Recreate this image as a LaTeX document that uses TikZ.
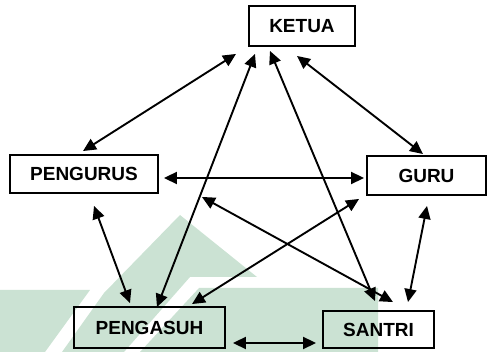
\documentclass[tikz,border=0pt]{standalone}
\usepackage{fontspec}
\setmainfont{Liberation Sans}
\usetikzlibrary{arrows.meta,calc}
\definecolor{wm}{RGB}{203,226,211}
\tikzset{
  box/.style={draw=black, line width=1.9pt, inner sep=0pt, font=\bfseries\fontsize{19}{22}\selectfont},
  link/.style={line width=1.9pt, {Triangle[length=13pt,width=12pt]}-{Triangle[length=13pt,width=12pt]}}
}
\begin{document}
\begin{tikzpicture}[x=1pt,y=-1pt]
\useasboundingbox (0,0) rectangle (488,352);
% watermark
\fill[wm] (0,290) -- (90,290) -- (45,352) -- (0,352) -- cycle;
\fill[wm] (180,215) -- (257,277) -- (190,277) -- (124,352) -- (62,352) -- (104,293) -- cycle;
\fill[wm] (199,288) -- (378,288) -- (378,352) -- (140,352) -- cycle;
% nodes
\node[box, minimum width=106pt, minimum height=40pt] (ketua) at (302,26) {KETUA};
\node[box, minimum width=148pt, minimum height=38pt] (pengurus) at (84,174) {PENGURUS};
\node[box, minimum width=119pt, minimum height=39pt] (guru) at (426.5,175.5) {GURU};
\node[box, minimum width=151pt, minimum height=41pt] (pengasuh) at (149.5,327.5) {PENGASUH};
\node[box, minimum width=111pt, minimum height=37pt] (santri) at (378.5,329.5) {SANTRI};
% connectors
\draw[link] ($(pengurus.north)+(-1,-3)$) -- ($(ketua.south)+(-66,7)$);
\draw[link] ($(pengasuh.north)+(7.5,1)$) -- ($(ketua.south)+(-47,7)$);
\draw[link] ($(ketua.south)+(-32,4)$) -- ($(santri.north)+(-3.5,-9)$);
\draw[link] ($(ketua.south)+(-5,9)$) -- ($(guru.north)+(-3.5,-1)$);
\draw[link] ($(pengurus.east)+(5,4)$) -- ($(guru.west)+(-2,2.5)$);
\draw[link] ($(pengurus.south)+(10,12)$) -- ($(pengasuh.north)+(-19.5,-3)$);
\draw[link] ($(pengurus.south east)+(43,3)$) -- ($(santri.north)+(14.5,-8)$);
\draw[link] ($(guru.south west)+(-7,3)$) -- ($(pengasuh.north)+(42.5,-2)$);
\draw[link] ($(guru.south)+(0.5,10)$) -- ($(santri.north)+(29.5,-8)$);
\draw[link] ($(pengasuh.east)+(7,15.5)$) -- ($(santri.west)+(-6,13.5)$);
\end{tikzpicture}
\end{document}
